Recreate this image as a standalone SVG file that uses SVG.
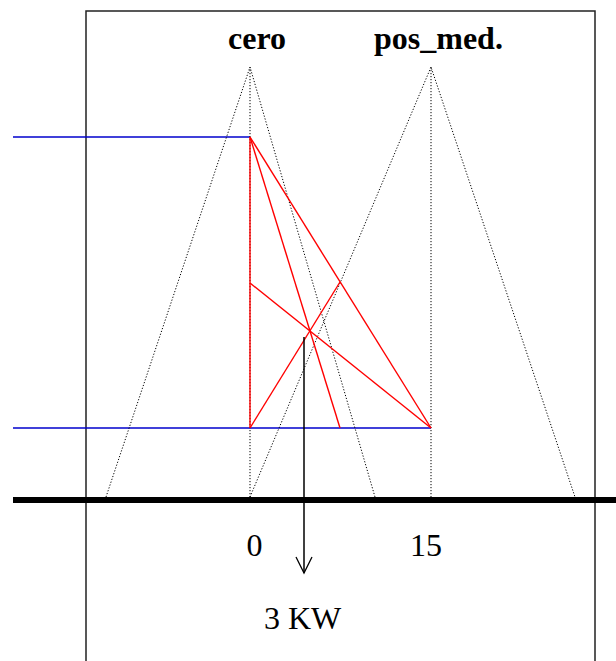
<svg xmlns="http://www.w3.org/2000/svg" width="616" height="661" viewBox="0 0 616 661">
<style>
.dot{stroke:#000;stroke-width:1;stroke-dasharray:1.2 1.8;fill:none}
.red{stroke:#ff0000;stroke-width:1.4;fill:none}
.blue{stroke:#0000cc;stroke-width:1.5;fill:none}
.frame{stroke:#222;stroke-width:1.5;fill:none}
.lbl{font-family:"Liberation Serif","Times New Roman",serif;font-size:32px;fill:#000}
.bold{font-weight:bold}
</style>
<rect width="616" height="661" fill="#fff"/>
<g id="frame">
<polyline class="frame" points="86,661 86,11 595,11 595,661"/>
</g>
<g id="connectors">
<line class="blue" x1="13" y1="137" x2="250" y2="137"/>
<line class="blue" x1="13" y1="428" x2="431" y2="428"/>
<polyline class="dot" points="106,497 250,67 375,497"/>
<line class="dot" x1="250" y1="67" x2="250" y2="497"/>
<polyline class="dot" points="250,497 431,67 575,497"/>
<line class="dot" x1="431" y1="67" x2="431" y2="497"/>
<line class="red" x1="250" y1="137" x2="250" y2="428"/>
<line class="red" x1="250" y1="137" x2="431" y2="428"/>
<line class="red" x1="250" y1="137" x2="340" y2="428"/>
<line class="red" x1="250" y1="283" x2="431" y2="428"/>
<line class="red" x1="250" y1="428" x2="340" y2="282"/>
<line x1="13" y1="500" x2="616" y2="500" stroke="#000" stroke-width="6"/>
<line x1="304" y1="337" x2="304" y2="573" stroke="#000" stroke-width="1.5"/>
<polyline points="296,557 304,573 312,557" fill="none" stroke="#000" stroke-width="1.3"/>
</g>
<g id="label-cero"><text class="lbl bold" x="257" y="49" text-anchor="middle">cero</text></g>
<g id="label-pos_med"><text class="lbl bold" x="374" y="49">pos_med.</text></g>
<g id="label-0"><text class="lbl" x="254.5" y="555.5" text-anchor="middle">0</text></g>
<g id="label-15"><text class="lbl" x="426" y="555.5" text-anchor="middle">15</text></g>
<g id="label-3kw"><text class="lbl" x="264" y="629">3 KW</text></g>
</svg>
